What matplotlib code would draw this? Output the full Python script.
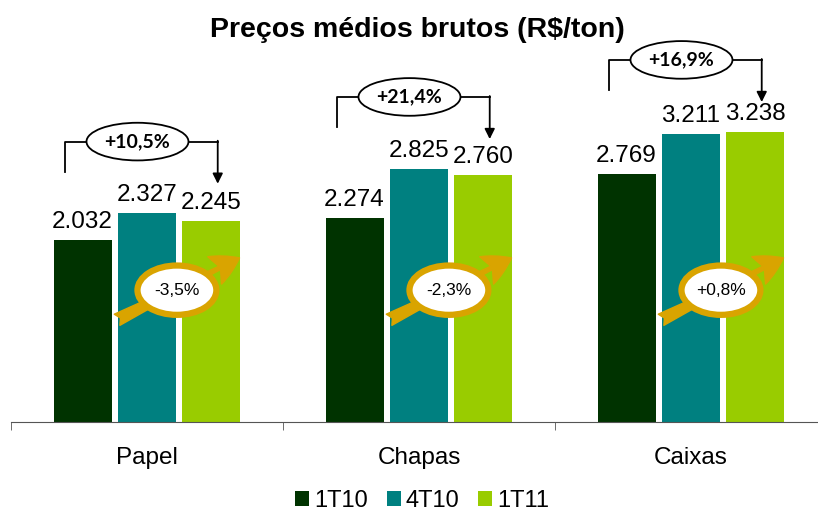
import numpy as np
import matplotlib
matplotlib.use("Agg")
import matplotlib.pyplot as plt
from matplotlib.patches import Ellipse, FancyArrowPatch

# DATA
categories = ["Papel", "Chapas", "Caixas"]
periods = ["1T10", "4T10", "1T11"]
precos_1t10 = [2032, 2274, 2769]
precos_4t10 = [2327, 2825, 3211]
precos_1t11 = [2245, 2760, 3238]
var_anual = ["+10,5%", "+21,4%", "+16,9%"]
var_trim = ["-3,5%", "-2,3%", "+0,8%"]

colors = ["#003300", "#008080", "#99CC00"]
gold = "#D9A400"

plt.rcParams["font.family"] = ["Liberation Sans", "DejaVu Sans"]

fig = plt.figure(figsize=(8.18, 5.12), dpi=100)
ax = fig.add_axes([11 / 818, 1 - 422 / 512, 816 / 818, 382 / 512])

x = np.arange(len(categories))
width = 0.213
step = 0.237
series = [precos_1t10, precos_4t10, precos_1t11]

for i, (vals, col, lab) in enumerate(zip(series, colors, periods)):
    pos = x + (i - 1) * step
    bars = ax.bar(pos, vals, width, color=col, label=lab, zorder=2)
    for b, v in zip(bars, vals):
        ax.annotate(f"{v / 1000:.3f}", (b.get_x() + b.get_width() / 2, v),
                    xytext=(0, 5), textcoords="offset points",
                    ha="center", va="bottom", fontsize=17.5)

# brackets with yearly change
for i, lab in enumerate(var_anual):
    top = max(s[i] for s in series)
    y_line = top + 800
    xl, xr = x[i] - 0.30, x[i] + 0.26
    ax.plot([xl, xl, xr], [y_line - 340, y_line, y_line], color="black", lw=1.3, zorder=3)
    ax.annotate("", xy=(xr, y_line - 470), xytext=(xr, y_line + 10),
                arrowprops=dict(arrowstyle="-|>,head_length=0.6,head_width=0.3",
                                color="black", lw=1.3, shrinkA=0, shrinkB=0), zorder=3)
    ax.add_patch(Ellipse((x[i] - 0.035, y_line), 0.375, 420, facecolor="white",
                         edgecolor="black", lw=1.3, zorder=4))
    ax.text(x[i] - 0.035, y_line, lab, ha="center", va="center", fontsize=14,
            fontweight="bold", family=["Lato", "DejaVu Sans"], zorder=5)

# gold arrows with quarterly change
for i, lab in enumerate(var_trim):
    yc = 1470
    arr = FancyArrowPatch((x[i] - 0.11, yc - 330), (x[i] + 0.34, yc + 360),
                          arrowstyle="fancy,head_length=1.0,head_width=1.1,tail_width=0.45",
                          mutation_scale=20, color=gold, shrinkA=0, shrinkB=0, zorder=4)
    ax.add_patch(arr)
    ax.add_patch(Ellipse((x[i] + 0.11, yc), 0.29, 550, facecolor="white",
                         edgecolor=gold, lw=4.5, zorder=5))
    ax.text(x[i] + 0.11, yc, lab, ha="center", va="center", fontsize=12.5, zorder=6)

ax.set_xlim(-0.5, 2.5)
ax.set_ylim(0, 4260)
ax.set_xticks(x)
ax.set_xticklabels(categories, fontsize=17.5)
ax.set_xticks(np.arange(-0.5, 3, 1), minor=True)
ax.tick_params(axis="x", which="major", length=0, pad=18)
ax.tick_params(axis="x", which="minor", length=6, color="#555555", direction="out")
ax.set_yticks([])
for s in ["left", "right", "top"]:
    ax.spines[s].set_visible(False)
ax.spines["bottom"].set_color("#555555")

fig.text(417 / 818, 1 - 30 / 512, "Preços médios brutos (R$/ton)", ha="center", va="center",
         fontsize=20.5, fontweight="bold")

fig.legend(loc="center", bbox_to_anchor=(422 / 818, 1 - 501 / 512), ncol=3, frameon=False,
           fontsize=17, handlelength=0.6, handleheight=0.6, handletextpad=0.2,
           columnspacing=0.8, borderpad=0.2)

fig.savefig("out.png", dpi=100)
